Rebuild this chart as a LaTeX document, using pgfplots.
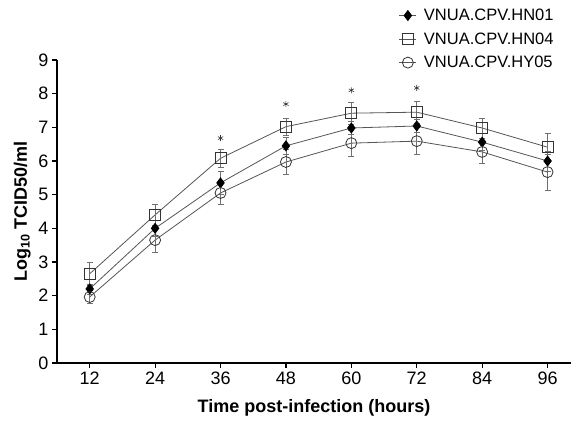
\documentclass[border=0pt]{standalone}
\usepackage{pgfplots}
\pgfplotsset{compat=1.18}
\usepackage{fontspec}
\setmainfont{Liberation Sans}
\usepackage{xcolor}
\definecolor{linegray}{HTML}{555555}
\definecolor{bargray}{HTML}{707070}

\begin{document}
\begin{tikzpicture}
  \begin{axis}[
      scale only axis,
      width=514pt, height=303pt,
      axis lines*=left,
      axis line style={line width=1.4pt},
      xmin=6, xmax=100.3,
      ymin=0, ymax=9,
      xtick={12,24,36,48,60,72,84,96},
      ytick={0,1,...,9},
      tick align=outside,
      major tick length=5pt,
      tick style={line width=1.2pt, black},
      /pgf/number format/assume math mode=true,
      ticklabel style={font=\fontsize{18}{20}\selectfont},
      xlabel={\textbf{Time post-infection (hours)}},
      ylabel={\textbf{Log\textsubscript{10} TCID50/ml}},
      label style={font=\fontsize{18}{20}\selectfont},
      xlabel style={yshift=-8pt},
      ylabel style={yshift=1pt},
      clip=false,
      legend style={draw=none, fill=none, at={(0.659,1.182)}, anchor=north west,
                    font=\fontsize{16.5}{18}\selectfont, row sep=6.5pt},
      legend image code/.code={%
        \draw[mark repeat=2, mark phase=2, #1] plot coordinates {(0cm,0cm) (0.3cm,0cm) (0.6cm,0cm)};
        \path (0.78cm,0cm);},
      legend cell align=left,
      error bars/error bar style={bargray, line width=0.7pt},
      error bars/error mark options={rotate=90, mark size=3pt, bargray, line width=0.7pt},
    ]
    \addplot[linegray, line width=0.8pt, mark=diamond*, mark size=5pt,
             mark options={fill=black, draw=black, solid},
             error bars/.cd, y dir=both, y explicit]
      coordinates {(12,2.20)+-(0,0.15) (24,4.00)+-(0,0.25) (36,5.35)+-(0,0.35) (48,6.45)+-(0,0.25)
                   (60,6.98)+-(0,0.20) (72,7.04)+-(0,0.20) (84,6.56)+-(0,0.25) (96,6.00)+-(0,0.30)};
    \addlegendentry{VNUA.CPV.HN01}
    \addplot[linegray, line width=0.8pt, mark=square, mark size=5.5pt,
             mark options={draw=black!80, line width=0.8pt, solid},
             error bars/.cd, y dir=both, y explicit]
      coordinates {(12,2.65)+-(0,0.35) (24,4.40)+-(0,0.30) (36,6.08)+-(0,0.27) (48,7.02)+-(0,0.25)
                   (60,7.42)+-(0,0.33) (72,7.45)+-(0,0.33) (84,6.98)+-(0,0.30) (96,6.41)+-(0,0.42)};
    \addlegendentry{VNUA.CPV.HN04}
    \addplot[linegray, line width=0.8pt, mark=o, mark size=5.5pt,
             mark options={draw=black!80, line width=0.8pt, solid},
             error bars/.cd, y dir=both, y explicit]
      coordinates {(12,1.96)+-(0,0.20) (24,3.65)+-(0,0.35) (36,5.05)+-(0,0.35) (48,5.97)+-(0,0.37)
                   (60,6.53)+-(0,0.38) (72,6.59)+-(0,0.40) (84,6.27)+-(0,0.35) (96,5.67)+-(0,0.53)};
    \addlegendentry{VNUA.CPV.HY05}
    \addplot[only marks, mark=asterisk, mark size=3pt, mark options={black!80, line width=0.6pt}, forget plot]
      coordinates {(36,6.68) (48,7.69) (60,8.10) (72,8.17)};
  \end{axis}
  \pgfresetboundingbox
  \path[use as bounding box] ([shift={(-57pt,-60pt)}]current axis.south west)
        rectangle ([shift={(0pt,60pt)}]current axis.north east);
\end{tikzpicture}
\end{document}
